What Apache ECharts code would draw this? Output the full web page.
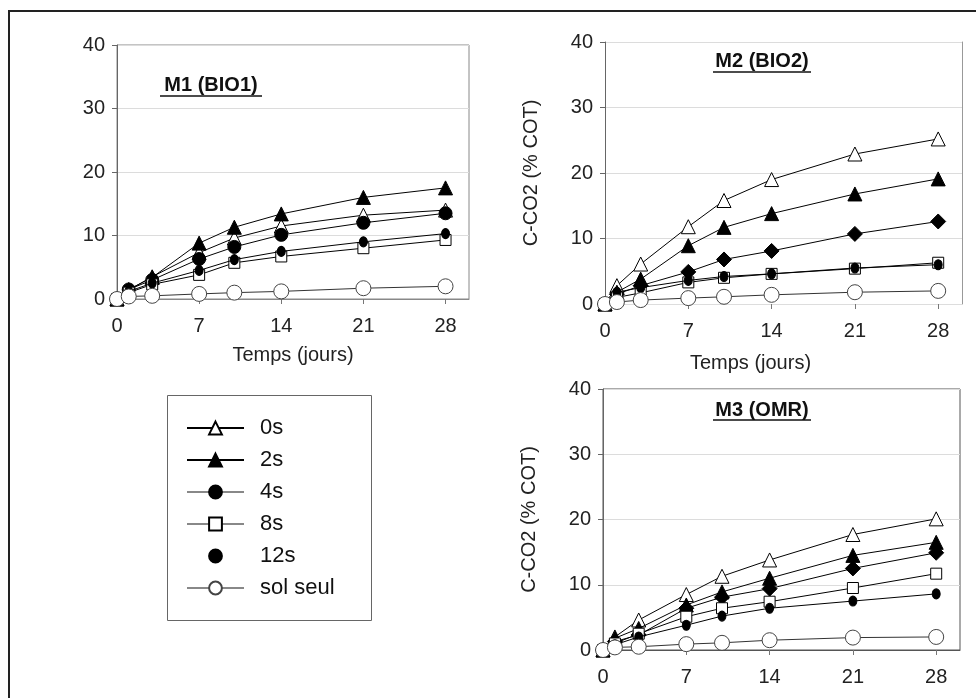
<!DOCTYPE html>
<html>
<head>
<meta charset="utf-8">
<script src="https://cdn.jsdelivr.net/npm/echarts@6/dist/echarts.min.js"></script>
<style>html,body{margin:0;padding:0;background:#fff}#c{width:976px;height:698px}</style>
</head>
<body>
<div id="c"></div>
<script>
// ---- data ----
const days = [0, 1, 3, 7, 10, 14, 21, 28];
const xTicks = [0, 7, 14, 21, 28];
const yTicks = [0, 10, 20, 30, 40];
const seriesNames = ['0s', '2s', '4s', '8s', '12s', 'sol seul'];
const panelTitles = ['M1 (BIO1)', 'M2 (BIO2)', 'M3 (OMR)'];
const yName = 'C-CO2 (% COT)';
const xName = 'Temps (jours)';

const m1_0s  = [0, 1.4, 3.5, 7.3, 9.6, 11.5, 13.2, 14.0];
const m1_2s  = [0, 1.5, 3.4, 8.8, 11.3, 13.4, 16.0, 17.5];
const m1_4s  = [0, 1.5, 3.0, 6.3, 8.2, 10.1, 12.0, 13.5];
const m1_8s  = [0, 1.0, 2.3, 3.8, 5.7, 6.7, 8.0, 9.3];
const m1_12s = [0, 1.2, 2.5, 4.5, 6.2, 7.5, 9.0, 10.3];
const m1_sol = [0, 0.4, 0.5, 0.8, 1.0, 1.2, 1.7, 2.0];

const m2_0s  = [0, 2.8, 6.1, 11.8, 15.8, 19.0, 22.9, 25.2];
const m2_2s  = [0, 1.8, 3.8, 8.9, 11.7, 13.8, 16.8, 19.1];
const m2_4s  = [0, 1.5, 2.8, 4.9, 6.8, 8.1, 10.7, 12.6];
const m2_8s  = [0, 1.0, 1.7, 3.3, 4.0, 4.6, 5.4, 6.3];
const m2_12s = [0, 1.8, 2.5, 3.6, 4.2, 4.6, 5.5, 6.0];
const m2_sol = [0, 0.3, 0.6, 0.9, 1.1, 1.4, 1.8, 2.0];

const m3_0s  = [0, 2.0, 4.6, 8.5, 11.3, 13.8, 17.7, 20.1];
const m3_2s  = [0, 1.8, 3.3, 6.9, 8.9, 11.0, 14.5, 16.5];
const m3_4s  = [0, 1.3, 2.3, 6.4, 8.1, 9.4, 12.5, 14.9];
const m3_8s  = [0, 1.0, 2.5, 5.1, 6.4, 7.4, 9.5, 11.7];
const m3_12s = [0, 0.8, 2.0, 3.8, 5.2, 6.4, 7.5, 8.6];
const m3_sol = [0, 0.4, 0.5, 0.9, 1.1, 1.5, 1.9, 2.0];

const panels = [
  [m1_0s, m1_2s, m1_4s, m1_8s, m1_12s, m1_sol],
  [m2_0s, m2_2s, m2_4s, m2_8s, m2_12s, m2_sol],
  [m3_0s, m3_2s, m3_4s, m3_8s, m3_12s, m3_sol]
];

// ---- styles ----
const FONT = 'Liberation Sans, Arial, sans-serif';
const symStyle = {
  '0s':       {symbol: 'triangle', size: 14, fill: '#fff', border: '#000', line: '#000'},
  '2s':       {symbol: 'triangle', size: 14, fill: '#000', border: '#000', line: '#000'},
  '4s':       {symbol: 'circle',   size: 13, fill: '#000', border: '#000', line: '#000'},
  '8s':       {symbol: 'rect',     size: 11, fill: '#fff', border: '#000', line: '#000'},
  '12s':      {symbol: 'circle',   size: [8, 10], fill: '#000', border: '#000', line: '#000'},
  'sol seul': {symbol: 'circle',   size: 15, fill: '#fff', border: '#444', line: '#333'}
};

const grids = [
  {left: 117, top: 45, width: 352, height: 254, show: true, borderColor: '#888', borderWidth: 1},
  {left: 605, top: 42, width: 357, height: 262, show: false},
  {left: 603, top: 389, width: 357, height: 261, show: true, borderColor: '#555', borderWidth: 1}
].map(g => Object.assign({containLabel: false, outerBoundsMode: 'none'}, g));

const xAxes = grids.map((g, i) => ({
  type: 'value', gridIndex: i, min: 0, max: 30,
  name: i < 2 ? xName : '',
  nameLocation: 'middle', nameGap: i === 0 ? 46 : 49,
  nameTextStyle: {fontFamily: FONT, fontSize: 20, color: '#222', padding: i === 1 ? [0, 66, 0, 0] : 0},
  axisLine: {show: true, onZero: false, lineStyle: {color: i === 1 ? '#ddd' : (i === 2 ? '#555' : '#888'), width: 1}},
  axisTick: {show: true, customValues: xTicks, length: 5, inside: false, lineStyle: {color: '#777'}},
  axisLabel: {customValues: xTicks, margin: 17, fontFamily: FONT, fontSize: 20, color: '#222'},
  splitLine: {show: false}
}));

const yAxes = grids.map((g, i) => ({
  type: 'value', gridIndex: i, min: 0, max: 40, interval: 10,
  name: i > 0 ? yName : '',
  nameLocation: 'middle', nameRotate: 90, nameGap: 64,
  nameTextStyle: {fontFamily: FONT, fontSize: 20, color: '#222'},
  axisLine: {show: true, lineStyle: {color: '#666', width: 1}},
  axisTick: {show: true, length: 5, lineStyle: {color: '#666'}},
  axisLabel: {margin: 12, fontFamily: FONT, fontSize: 20, color: '#222'},
  splitLine: {show: true, lineStyle: {color: '#dcdcdc', width: 1}}
}));
// right border for M2
yAxes.push({
  type: 'value', gridIndex: 1, min: 0, max: 40, interval: 10, position: 'right',
  axisLine: {show: true, lineStyle: {color: '#999', width: 1}},
  axisTick: {show: false}, axisLabel: {show: false}, splitLine: {show: false}
});

const series = [];
panels.forEach((arrs, p) => {
  arrs.forEach((vals, k) => {
    const name = seriesNames[k];
    const st = symStyle[name];
    let symbol = st.symbol, size = st.size;
    if (p > 0 && name === '4s') { symbol = 'diamond'; size = 15; }
    series.push({
      type: 'line', name: name, xAxisIndex: p, yAxisIndex: p,
      data: vals.map((v, i) => [days[i], v]),
      symbol: symbol, symbolSize: size,
      showAllSymbol: true,
      lineStyle: {color: st.line, width: 1},
      itemStyle: {color: st.fill, borderColor: st.border, borderWidth: 1},
      z: 2 + k
    });
  });
});

const titlePos = [[211, 87], [762, 63], [762, 412]];
const titles = panelTitles.map((t, i) => ({
  text: t, left: titlePos[i][0], top: titlePos[i][1] - 12, textAlign: 'center', padding: 0,
  textStyle: {fontFamily: FONT, fontSize: 20, fontWeight: 'bold', color: '#111'}
}));
const underlines = [[160, 262, 96], [713, 811, 72], [713, 811, 420]];

const chart = echarts.init(document.getElementById('c'), null, {renderer: 'canvas'});
chart.setOption({
  animation: false,
  backgroundColor: '#fff',
  title: titles,
  grid: grids,
  xAxis: xAxes,
  yAxis: yAxes,
  legend: {
    orient: 'vertical', left: 186, top: 417, padding: 0,
    itemWidth: 57, itemHeight: 16, itemGap: 10,
    selectedMode: false,
    textStyle: {fontFamily: FONT, fontSize: 22, color: '#111', lineHeight: 22, padding: [0, 0, 0, 11]},
    data: seriesNames.map(n => {
      const d = {name: n};
      if (n === '12s') d.lineStyle = {opacity: 0};
      if (n === '4s' || n === '8s' || n === 'sol seul') d.lineStyle = {color: '#888'};
      return d;
    })
  },
  graphic: [
    {type: 'rect', shape: {x: 9, y: 11, width: 1000, height: 720}, style: {fill: null, stroke: '#222', lineWidth: 2}, silent: true},
    {type: 'rect', shape: {x: 167.5, y: 395.5, width: 204, height: 225}, style: {fill: null, stroke: '#666', lineWidth: 1}, silent: true}
  ].concat(underlines.map(u => ({
    type: 'line', shape: {x1: u[0], y1: u[2], x2: u[1], y2: u[2]}, style: {stroke: '#111', lineWidth: 1.5}, silent: true
  }))),
  series: series
});
</script>
</body>
</html>
